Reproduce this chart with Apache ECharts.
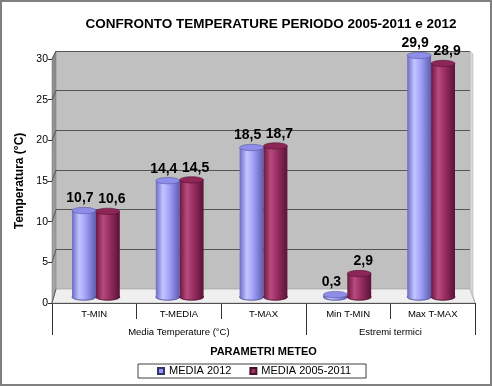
<!DOCTYPE html>
<html>
<head>
<meta charset="utf-8">
<script src="https://cdn.jsdelivr.net/npm/echarts@6/dist/echarts.min.js"></script>
<style>
html,body{margin:0;padding:0;background:#fff;}
#c{width:492px;height:386px;}
</style>
</head>
<body>
<div id="c"></div>
<script>
// ---- data ----
const categories = ['T-MIN', 'T-MEDIA', 'T-MAX', 'Min T-MIN', 'Max T-MAX'];
const media2012 = [10.7, 14.4, 18.5, 0.3, 29.9];
const media0511 = [10.6, 14.5, 18.7, 2.9, 28.9];
const seriesNames = ['MEDIA 2012', 'MEDIA 2005-2011'];
const groupLabels = ['', '', '', 'Media Temperature (°C)', '', '', '', '', 'Estremi termici', '', ''];
const groupTickAt = [0, 6, 10];
const yTicks = [0, 5, 10, 15, 20, 25, 30];

// ---- layout ----
const W = 492, H = 386;
const FRONT = {left: 52, right: 475, top: 59, bottom: 303};
const BACK = {left: 56, right: 470, top: 51, bottom: 289};
const BARS = {left: 54, right: 473, top: 54.6, bottom: 297};
function gridOf(r, extra) {
  return Object.assign({left: r.left, right: W - r.right, top: r.top, bottom: H - r.bottom,
    containLabel: false, outerBoundsMode: 'none'}, extra || {});
}
const FONT = '"Liberation Sans", Arial, sans-serif';

const blueColors = {
  body: [{offset: 0, color: '#6B6BC8'}, {offset: 0.3, color: '#C4C4FF'}, {offset: 0.55, color: '#A3A3FA'}, {offset: 1, color: '#5C5CB0'}],
  top: '#8E8EE8', edge: '#4A4A90'
};
const maroonColors = {
  body: [{offset: 0, color: '#6A1840'}, {offset: 0.3, color: '#B84A7E'}, {offset: 0.55, color: '#9C3064'}, {offset: 1, color: '#5A1236'}],
  top: '#8C2656', edge: '#4A0E2C'
};
function fmt(v) { return v.toFixed(1).replace('.', ','); }

function makeRender(sign, colors) {
  return function (params, api) {
    const idx = api.value(0), val = api.value(1);
    const top = api.coord([idx, val]);
    const base = api.coord([idx, 0]);
    const catW = api.size([1, 0])[0];
    const w = catW * 0.285;
    const cx = top[0] + sign * w / 2;
    const rx = w / 2, ry = 3.2;
    const grad = new echarts.graphic.LinearGradient(0, 0, 1, 0, colors.body);
    return {
      type: 'group',
      children: [
        {type: 'ellipse', shape: {cx: cx, cy: base[1], rx: rx, ry: ry}, style: {fill: grad, stroke: colors.edge, lineWidth: 0.5}},
        {type: 'rect', shape: {x: cx - rx, y: top[1], width: w, height: Math.max(0, base[1] - top[1])}, style: {fill: grad}},
        {type: 'ellipse', shape: {cx: cx, cy: top[1], rx: rx, ry: ry}, style: {fill: colors.top, stroke: colors.edge, lineWidth: 0.5}},
        {type: 'text', x: cx + sign * 4, y: top[1] - 5,
          style: {text: fmt(val), font: 'bold 14px ' + FONT, fill: '#000', align: 'center', verticalAlign: 'bottom'}}
      ]
    };
  };
}

const option = {
  animation: false,
  backgroundColor: '#fff',
  title: {
    text: 'CONFRONTO TEMPERATURE PERIODO 2005-2011 e 2012',
    left: 266, top: 12, textAlign: 'center',
    textStyle: {fontFamily: FONT, fontWeight: 'bold', fontSize: 13.5, color: '#000'}
  },
  legend: {
    data: seriesNames,
    left: 138, top: 364,
    icon: 'rect', itemWidth: 6, itemHeight: 6, itemGap: 18,
    padding: [1, 15, 1, 19],
    borderColor: '#404040', borderWidth: 1, backgroundColor: '#fff',
    textStyle: {fontFamily: FONT, fontSize: 11, color: '#000', lineHeight: 12}
  },
  grid: [gridOf(FRONT), gridOf(BACK, {show: true, backgroundColor: '#C0C0C0', borderWidth: 0}), gridOf(BARS)],
  xAxis: [
    {gridIndex: 0, type: 'category', data: categories, boundaryGap: true,
      axisLine: {show: true, lineStyle: {color: '#333', width: 1}},
      axisTick: {show: true, length: 16, lineStyle: {color: '#333'}},
      axisLabel: {margin: 6, fontFamily: FONT, fontSize: 9.5, color: '#000', interval: 0},
      name: 'PARAMETRI METEO', nameLocation: 'middle', nameGap: 43,
      nameTextStyle: {fontFamily: FONT, fontWeight: 'bold', fontSize: 11, color: '#000'}},
    {gridIndex: 0, type: 'category', data: groupLabels, boundaryGap: false, position: 'bottom',
      axisLine: {show: false},
      axisTick: {show: true, length: 32, interval: function (i) { return groupTickAt.indexOf(i) >= 0; }, lineStyle: {color: '#333'}},
      axisLabel: {margin: 24, fontFamily: FONT, fontSize: 9.5, color: '#000', interval: 0}},
    {gridIndex: 1, type: 'category', data: categories, show: false},
    {gridIndex: 2, type: 'category', data: categories, show: false}
  ],
  yAxis: [
    {gridIndex: 0, type: 'value', min: 0, max: 30, interval: 5,
      axisLine: {show: true, lineStyle: {color: '#333'}},
      axisTick: {show: true, length: 4, lineStyle: {color: '#333'}},
      splitLine: {show: false},
      axisLabel: {margin: 4, fontFamily: FONT, fontSize: 10.5, color: '#000'},
      name: 'Temperatura (°C)', nameLocation: 'middle', nameGap: 25, nameRotate: 90,
      nameTextStyle: {fontFamily: FONT, fontWeight: 'bold', fontSize: 12, color: '#000'}},
    {gridIndex: 1, type: 'value', min: 0, max: 30, interval: 5,
      axisLine: {show: false}, axisTick: {show: false}, axisLabel: {show: false},
      splitLine: {show: true, lineStyle: {color: '#555', width: 1}}},
    {gridIndex: 2, type: 'value', min: 0, max: 30, interval: 5, show: false}
  ],
  series: [
    {name: seriesNames[0], type: 'custom', xAxisIndex: 3, yAxisIndex: 2, z: 5,
      itemStyle: {color: '#9999FF', borderColor: '#333366', borderWidth: 0.6},
      renderItem: makeRender(-1, blueColors),
      encode: {x: 0, y: 1},
      data: categories.map(function (c, i) { return [i, media2012[i]]; })},
    {name: seriesNames[1], type: 'custom', xAxisIndex: 3, yAxisIndex: 2, z: 5,
      itemStyle: {color: '#993366', borderColor: '#4A0E2C', borderWidth: 0.6},
      renderItem: makeRender(1, maroonColors),
      encode: {x: 0, y: 1},
      data: categories.map(function (c, i) { return [i, media0511[i]]; })}
  ]
};

const chart = echarts.init(document.getElementById('c'), null, {renderer: 'canvas'});
chart.setOption(option);

// 3D walls derived from the grid layout and the axis scales
const graphics = [];
graphics.push({type: 'polygon', z: 1, shape: {points: [[FRONT.left, FRONT.top], [BACK.left, BACK.top], [BACK.left, BACK.bottom], [FRONT.left, FRONT.bottom]]},
  style: {fill: new echarts.graphic.LinearGradient(0, 0, 0, 1, [{offset: 0, color: '#8A8A8A'}, {offset: 1, color: '#A8A8A8'}]), stroke: '#777', lineWidth: 0.5}});
graphics.push({type: 'polygon', z: 1, shape: {points: [[FRONT.left, FRONT.bottom], [BACK.left, BACK.bottom], [BACK.right, BACK.bottom], [FRONT.right, FRONT.bottom]]},
  style: {fill: '#EFEFEF', stroke: '#999', lineWidth: 0.6}});
graphics.push({type: 'polygon', z: 1, shape: {points: [[BACK.right, BACK.top], [BACK.right + 3, BACK.top + 3], [BACK.right + 3, BACK.bottom + 6], [FRONT.right, FRONT.bottom], [BACK.right, BACK.bottom]]},
  style: {fill: '#D8D8D8', stroke: '#AAA', lineWidth: 0.5}});
yTicks.forEach(function (v) {
  const yf = chart.convertToPixel({yAxisIndex: 0}, v);
  const yb = chart.convertToPixel({yAxisIndex: 1}, v);
  graphics.push({type: 'line', z: 2, shape: {x1: FRONT.left, y1: yf, x2: BACK.left, y2: yb}, style: {stroke: '#444', lineWidth: 0.8}});
});
graphics.push({type: 'rect', z: 10, silent: true, shape: {x: 1, y: 1, width: W - 2, height: H - 2}, style: {fill: 'none', stroke: '#808080', lineWidth: 2}});
chart.setOption({graphic: graphics});
</script>
</body>
</html>
